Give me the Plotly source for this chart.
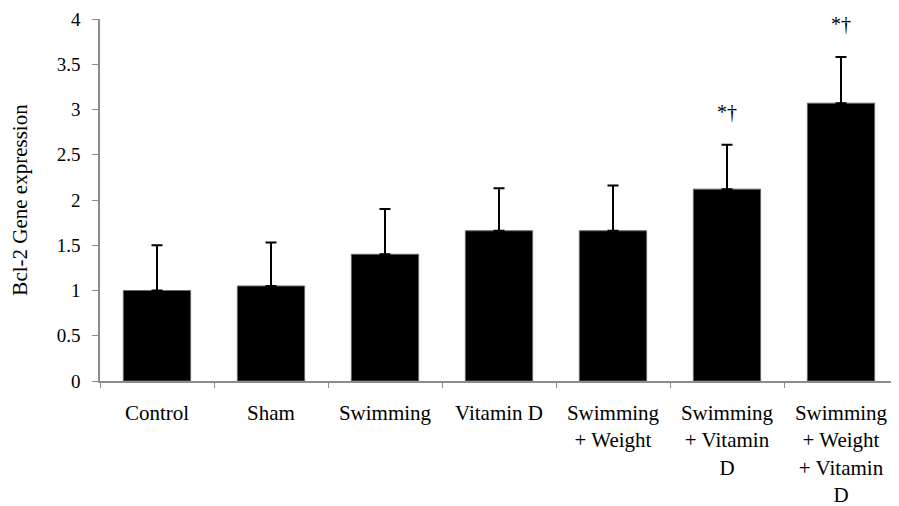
import plotly.graph_objects as go

categories = ["Control", "Sham", "Swimming", "Vitamin D",
              "Swimming<br>+ Weight", "Swimming<br>+ Vitamin<br>D",
              "Swimming<br>+ Weight<br>+ Vitamin<br>D"]
means = [1.0, 1.05, 1.40, 1.66, 1.66, 2.12, 3.07]
errors = [0.50, 0.48, 0.50, 0.47, 0.50, 0.49, 0.51]
sig_labels = ["", "", "", "", "", "*†", "*†"]
y_ticks = [0, 0.5, 1, 1.5, 2, 2.5, 3, 3.5, 4]
y_tick_text = ["0", "0.5", "1", "1.5", "2", "2.5", "3", "3.5", "4"]

FONT = "Liberation Serif, Times New Roman, serif"

fig = go.Figure()
fig.add_trace(go.Bar(
    x=categories, y=means,
    marker=dict(color="black", line=dict(color="#666666", width=1)),
    error_y=dict(type="data", array=errors, symmetric=False, arrayminus=[0]*len(errors),
                 color="black", thickness=2, width=5.5),
    showlegend=False,
))

for c, m, e, s in zip(categories, means, errors, sig_labels):
    if s:
        fig.add_annotation(x=c, y=m + e + 0.36, text=s, showarrow=False,
                           font=dict(family=FONT, size=20, color="black"))

# page has an 8px body margin, so the figure is sized/offset to compensate
fig.update_layout(
    width=891, height=498,
    margin=dict(l=92, r=1, t=11, b=125),
    paper_bgcolor="white", plot_bgcolor="white",
    bargap=0.41,
    font=dict(family=FONT, color="black"),
)
fig.update_yaxes(
    range=[0, 4], tickvals=y_ticks, ticktext=y_tick_text,
    showgrid=False, zeroline=False, automargin=False,
    showline=True, linecolor="#8c8c8c", linewidth=1.5,
    ticks="outside", ticklen=6, tickcolor="#8c8c8c", tickwidth=1,
    ticklabelstandoff=8, ticklabeloverflow="allow",
    tickfont=dict(family=FONT, size=19, color="black"),
    title=dict(text="Bcl-2 Gene expression", font=dict(family=FONT, size=21, color="black"), standoff=29),
)
fig.update_xaxes(
    showgrid=False, showline=True, linecolor="#8c8c8c", linewidth=1.5,
    automargin=False,
    ticks="outside", ticklen=5, tickcolor="#8c8c8c", tickson="boundaries",
    tickfont=dict(family=FONT, size=21, color="black"),
    ticklabelstandoff=12, ticklabeloverflow="allow",
)

fig.write_html("out.html")
